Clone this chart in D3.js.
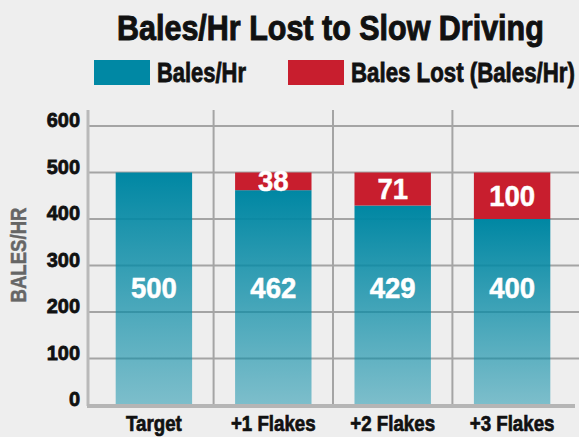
<!DOCTYPE html>
<html>
<head>
<meta charset="utf-8">
<script src="https://cdn.jsdelivr.net/npm/d3@7"></script>
<style>
	html, body { margin: 0; padding: 0; background: #eeeeee; }
	svg { display: block; }
	text { font-family: "Liberation Sans", Arial, sans-serif; font-weight: bold; }
</style>
</head>
<body>
<svg id="chart" width="579" height="437"></svg>
<script>
"use strict";

var categories = ["Target", "+1 Flakes", "+2 Flakes", "+3 Flakes"];
var balesPerHr = [500, 462, 429, 400];
var balesLost = [0, 38, 71, 100];
var yTicks = [0, 100, 200, 300, 400, 500, 600];
var seriesNames = ["Bales/Hr", "Bales Lost (Bales/Hr)"];

var W = 579, H = 437;
var blue = "#0088a4", red = "#c81e2e";

var svg = d3.select("#chart");

// the original face is a heavy condensed one: squeeze each text horizontally
// around its anchor point, and thicken the strokes a little
function squeeze(sel, k) {
	sel.each(function(){
		var t = d3.select(this);
		var px = +t.attr("x"), py = +t.attr("y");
		var kk = typeof k === "function" ? k.call(this) : k;
		t.attr("x", 0).attr("y", 0)
			.attr("transform", "translate(" + px + "," + py + ") scale(" + kk + ",1)");
	});
}
function toWidth(w) {
	return function(){ return w / this.getComputedTextLength(); };
}

var defs = svg.append("defs");
var grad = defs.append("linearGradient")
	.attr("id", "blueGrad")
	.attr("x1", 0).attr("y1", 0).attr("x2", 0).attr("y2", 1);
grad.append("stop").attr("offset", "0%").attr("stop-color", "#0087a3").attr("stop-opacity", 1);
grad.append("stop").attr("offset", "100%").attr("stop-color", "#0c8ea8").attr("stop-opacity", 0.5);

var x = d3.scaleBand()
	.domain(categories)
	.range([93, 573])
	.paddingInner(0.36)
	.paddingOuter(0.19);

var y = d3.scaleLinear()
	.domain([0, 600])
	.range([405, 126]);

var bw = x.bandwidth();
var gap = x.step() - bw;

// title
svg.append("text")
	.attr("x", 117).attr("y", 40)
	.attr("font-size", 35)
	.attr("fill", "#111").attr("stroke", "#111").attr("stroke-width", 1)
	.text("Bales/Hr Lost to Slow Driving")
	.call(squeeze, toWidth(427));

// legend
var legend = [
	{name: seriesNames[0], color: blue, rx: 94, tx: 157, tw: 89},
	{name: seriesNames[1], color: red, rx: 288, tx: 351, tw: 224}
];
var lg = svg.append("g").selectAll("g").data(legend).enter().append("g");
lg.append("rect")
	.attr("x", function(d){ return d.rx; })
	.attr("y", 60).attr("width", 56).attr("height", 25)
	.attr("fill", function(d){ return d.color; });
lg.append("text")
	.attr("x", function(d){ return d.tx; })
	.attr("y", 82)
	.attr("font-size", 27)
	.attr("fill", "#111").attr("stroke", "#111").attr("stroke-width", 0.8)
	.text(function(d){ return d.name; })
	.each(function(d){ d3.select(this).call(squeeze, toWidth(d.tw)); });

// grid
var grid = svg.append("g");
grid.selectAll(".hgrid")
	.data(yTicks.filter(function(t){ return t > 0; }))
	.enter().append("line")
	.attr("class", "hgrid")
	.attr("x1", 89).attr("x2", W)
	.attr("y1", function(d){ return y(d); })
	.attr("y2", function(d){ return y(d); })
	.attr("stroke", "#a4a4a4").attr("stroke-width", 2);
grid.selectAll(".vgrid")
	.data(categories.slice(1))
	.enter().append("line")
	.attr("class", "vgrid")
	.attr("x1", function(d){ return x(d) - gap/2; })
	.attr("x2", function(d){ return x(d) - gap/2; })
	.attr("y1", 110).attr("y2", 405)
	.attr("stroke", "#a4a4a4").attr("stroke-width", 2);

// left axis line
svg.append("line")
	.attr("x1", 88).attr("x2", 88)
	.attr("y1", 110).attr("y2", 406)
	.attr("stroke", "#b9b9b9").attr("stroke-width", 3);

// bars
var bars = svg.append("g");
bars.selectAll(".bb")
	.data(categories)
	.enter().append("rect")
	.attr("class", "bb")
	.attr("x", function(d){ return x(d); })
	.attr("width", bw)
	.attr("y", function(d, i){ return y(balesPerHr[i]); })
	.attr("height", function(d, i){ return y(0) - y(balesPerHr[i]); })
	.attr("fill", "url(#blueGrad)");
bars.selectAll(".rb")
	.data(categories)
	.enter().append("rect")
	.attr("class", "rb")
	.attr("x", function(d){ return x(d); })
	.attr("width", bw)
	.attr("y", function(d, i){ return y(balesPerHr[i] + balesLost[i]); })
	.attr("height", function(d, i){ return y(balesPerHr[i]) - y(balesPerHr[i] + balesLost[i]); })
	.attr("fill", red);

// bottom axis line
svg.append("line")
	.attr("x1", 87).attr("x2", 575)
	.attr("y1", 406).attr("y2", 406)
	.attr("stroke", "#b5b5b5").attr("stroke-width", 4);

// value labels
svg.append("g").selectAll("text")
	.data(categories)
	.enter().append("text")
	.attr("x", function(d){ return x(d) + bw/2; })
	.attr("y", y(250) + 9)
	.attr("text-anchor", "middle")
	.attr("font-size", 29)
	.attr("fill", "#fff").attr("stroke", "#fff").attr("stroke-width", 0.5)
	.text(function(d, i){ return balesPerHr[i]; })
	.call(squeeze, 0.95);
svg.append("g").selectAll("text")
	.data(categories.filter(function(d, i){ return balesLost[i] > 0; }))
	.enter().append("text")
	.attr("x", function(d){ return x(d) + bw/2; })
	.attr("y", function(d){
		var i = categories.indexOf(d);
		return (y(balesPerHr[i]) + y(balesPerHr[i] + balesLost[i]))/2 + 10;
	})
	.attr("text-anchor", "middle")
	.attr("font-size", 29)
	.attr("fill", "#fff").attr("stroke", "#fff").attr("stroke-width", 0.5)
	.text(function(d){ return balesLost[categories.indexOf(d)]; })
	.call(squeeze, 0.95);

// y ticks
svg.append("g").selectAll("text")
	.data(yTicks)
	.enter().append("text")
	.attr("x", 80)
	.attr("y", function(d){ return y(d) + 1; })
	.attr("text-anchor", "end")
	.attr("font-size", 21)
	.attr("fill", "#111").attr("stroke", "#111").attr("stroke-width", 0.8)
	.text(function(d){ return d; })
	.call(squeeze, 0.95);

// x labels
svg.append("g").selectAll("text")
	.data(categories)
	.enter().append("text")
	.attr("x", function(d){ return x(d) + bw/2; })
	.attr("y", 431)
	.attr("text-anchor", "middle")
	.attr("font-size", 22)
	.attr("fill", "#111").attr("stroke", "#111").attr("stroke-width", 0.7)
	.text(function(d){ return d; })
	.call(squeeze, 0.85);

// y axis title
svg.append("text")
	.attr("x", 0).attr("y", 0)
	.attr("text-anchor", "middle")
	.attr("font-size", 23)
	.attr("fill", "#666").attr("stroke", "#666").attr("stroke-width", 0.5)
	.text("BALES/HR")
	.each(function(){
		var k = 95 / this.getComputedTextLength();
		d3.select(this).attr("transform", "translate(26,255) rotate(-90) scale(" + k + ",1)");
	});
</script>
</body>
</html>
